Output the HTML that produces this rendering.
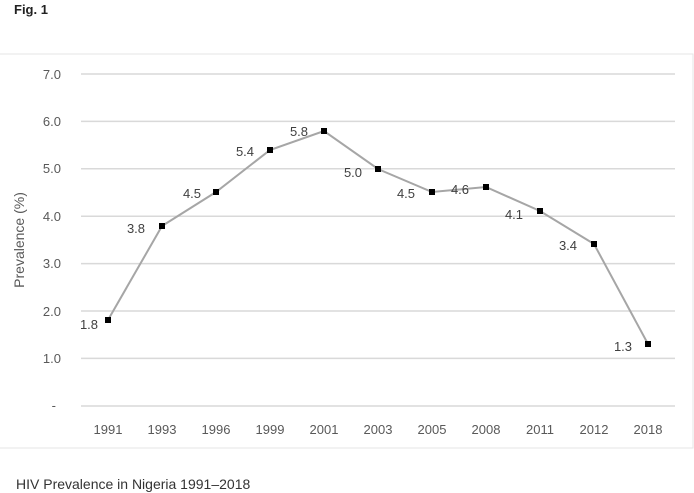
<!DOCTYPE html>
<html><head><meta charset="utf-8"><style>
html,body{margin:0;padding:0;background:#fff;}
svg{display:block;font-family:"Liberation Sans",sans-serif;}
</style></head><body>
<svg width="694" height="493" viewBox="0 0 694 493">
<text x="14" y="14" font-size="13" font-weight="bold" fill="#222">Fig. 1</text>
<rect x="-1" y="54" width="694" height="394" fill="none" stroke="#e6e6e6" stroke-width="1"/>
<g stroke="#d9d9d9" stroke-width="1.5">
<line x1="81" x2="675" y1="74" y2="74"/>
<line x1="81" x2="675" y1="121.4" y2="121.4"/>
<line x1="81" x2="675" y1="168.8" y2="168.8"/>
<line x1="81" x2="675" y1="216.2" y2="216.2"/>
<line x1="81" x2="675" y1="263.6" y2="263.6"/>
<line x1="81" x2="675" y1="311" y2="311"/>
<line x1="81" x2="675" y1="358.4" y2="358.4"/>
<line x1="81" x2="675" y1="406" y2="406"/>
</g>
<g font-size="13" fill="#595959" text-anchor="end">
<text x="61" y="79">7.0</text>
<text x="61" y="126">6.0</text>
<text x="61" y="173">5.0</text>
<text x="61" y="221">4.0</text>
<text x="61" y="268">3.0</text>
<text x="61" y="316">2.0</text>
<text x="61" y="363">1.0</text>
<text x="56" y="410">-</text>
</g>
<text transform="translate(24,240) rotate(-90)" font-size="14" fill="#595959" text-anchor="middle">Prevalence (%)</text>
<g font-size="13" fill="#595959" text-anchor="middle">
<text x="108" y="434">1991</text><text x="162" y="434">1993</text><text x="216" y="434">1996</text>
<text x="270" y="434">1999</text><text x="324" y="434">2001</text><text x="378" y="434">2003</text>
<text x="432" y="434">2005</text><text x="486" y="434">2008</text><text x="540" y="434">2011</text>
<text x="594" y="434">2012</text><text x="648" y="434">2018</text>
</g>
<polyline fill="none" stroke="#a6a6a6" stroke-width="2" points="108,320 162,226 216,192 270,150 324,131 378,169 432,192 486,187 540,211 594,244 648,344"/>
<g fill="#000">
<rect x="105" y="317" width="6" height="6"/><rect x="159" y="223" width="6" height="6"/>
<rect x="213" y="189" width="6" height="6"/><rect x="267" y="147" width="6" height="6"/>
<rect x="321" y="128" width="6" height="6"/><rect x="375" y="166" width="6" height="6"/>
<rect x="429" y="189" width="6" height="6"/><rect x="483" y="184" width="6" height="6"/>
<rect x="537" y="208" width="6" height="6"/><rect x="591" y="241" width="6" height="6"/>
<rect x="645" y="341" width="6" height="6"/>
</g>
<g font-size="13" fill="#404040" text-anchor="middle">
<text x="89" y="329">1.8</text><text x="136" y="233">3.8</text><text x="192" y="198">4.5</text>
<text x="245" y="156">5.4</text><text x="299" y="136">5.8</text><text x="353" y="177">5.0</text>
<text x="406" y="198">4.5</text><text x="460" y="194">4.6</text><text x="514" y="219">4.1</text>
<text x="568" y="250">3.4</text><text x="623" y="351">1.3</text>
</g>
<text x="16" y="489" font-size="14" fill="#333">HIV Prevalence in Nigeria 1991–2018</text>
</svg>
</body></html>
